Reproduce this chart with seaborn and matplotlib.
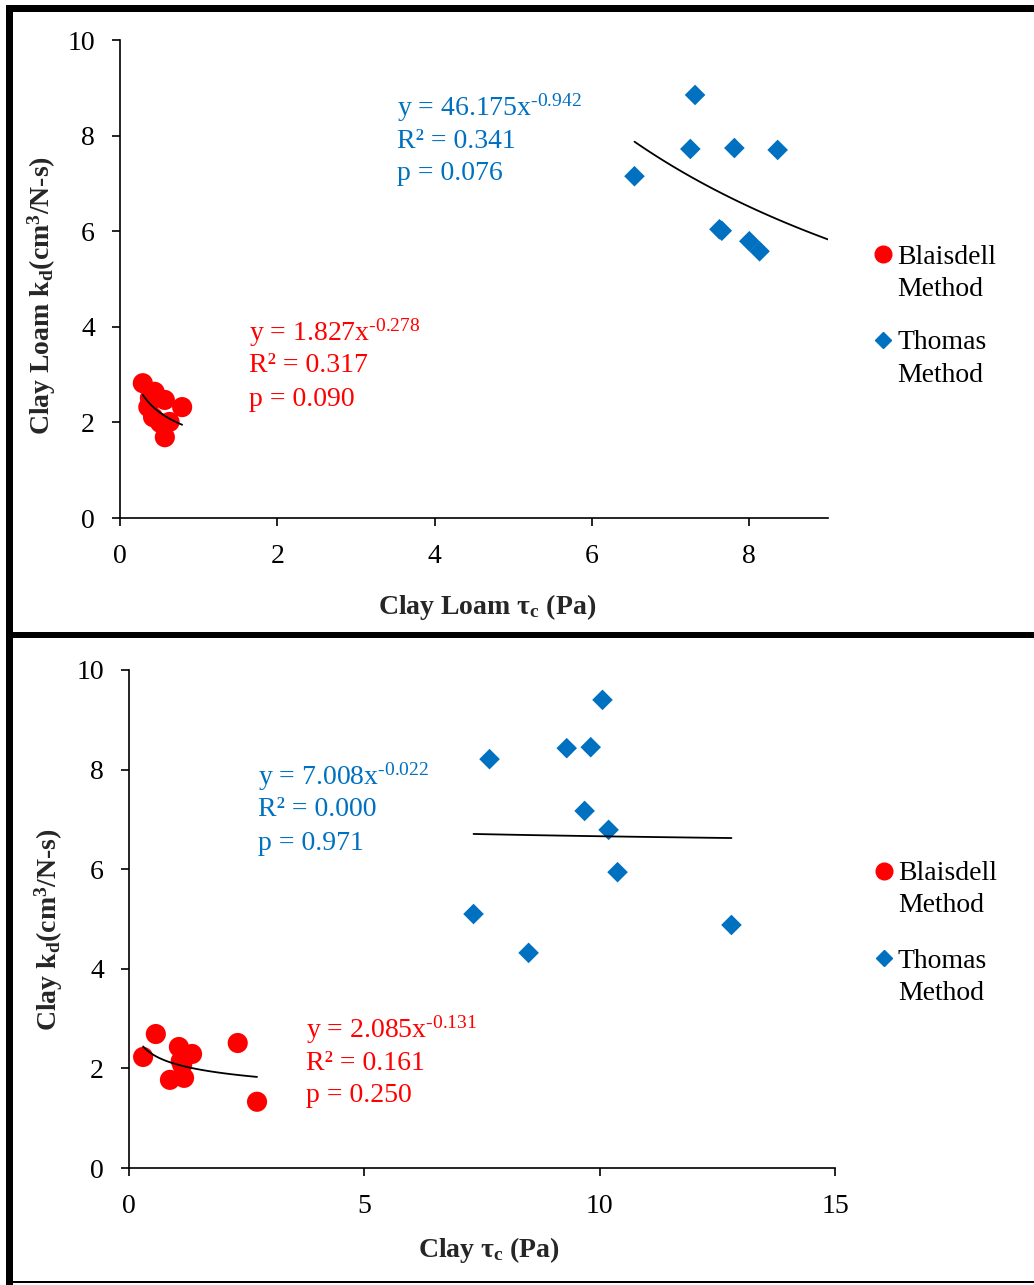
import numpy as np
import pandas as pd
import matplotlib
matplotlib.use("Agg")
import matplotlib.pyplot as plt
from matplotlib.patches import Rectangle
from matplotlib.lines import Line2D
import seaborn as sns

# ---- Clay loam soil ----
cl_blaisdell_tau = [0.29, 0.44, 0.57, 0.79, 0.36, 0.42, 0.51, 0.63, 0.57, 0.38]
cl_blaisdell_kd = [2.82, 2.64, 2.47, 2.32, 2.32, 2.11, 1.99, 2.01, 1.69, 2.51]
cl_thomas_tau = [7.31, 7.25, 7.81, 8.36, 6.54, 7.62, 7.65, 8.00, 8.13]
cl_thomas_kd = [8.85, 7.72, 7.74, 7.70, 7.15, 6.04, 6.01, 5.79, 5.58]

# ---- Clay soil ----
c_blaisdell_tau = [0.57, 0.30, 1.06, 1.34, 1.13, 0.87, 1.17, 2.31, 2.72, 1.10]
c_blaisdell_kd = [2.69, 2.23, 2.43, 2.29, 2.07, 1.77, 1.81, 2.51, 1.33, 2.15]
c_thomas_tau = [10.06, 9.30, 9.81, 7.66, 9.68, 10.19, 10.38, 7.32, 8.49, 12.80]
c_thomas_kd = [9.40, 8.43, 8.45, 8.21, 7.17, 6.79, 5.94, 5.10, 4.32, 4.88]

# Power-law fits  y = a * x^b  with reported statistics
fits = {
    "cl_blaisdell": dict(a=1.827, b=-0.278, r2="0.317", p="0.090", x0=0.29, x1=0.79),
    "cl_thomas": dict(a=46.175, b=-0.942, r2="0.341", p="0.076", x0=6.54, x1=9.0),
    "c_blaisdell": dict(a=2.085, b=-0.131, r2="0.161", p="0.250", x0=0.30, x1=2.72),
    "c_thomas": dict(a=7.008, b=-0.022, r2="0.000", p="0.971", x0=7.32, x1=12.80),
}

legend_labels = ["Blaisdell\nMethod", "Thomas\nMethod"]

RED = "#FF0000"
BLUE = "#0070C0"

sns.set_theme(style="white")
plt.rcParams["font.family"] = ["Liberation Serif", "DejaVu Serif"]
plt.rcParams["mathtext.fontset"] = "custom"
plt.rcParams["mathtext.rm"] = "Liberation Serif"
plt.rcParams["mathtext.it"] = "Liberation Serif:italic"
plt.rcParams["mathtext.bf"] = "Liberation Serif:bold"

W, H = 1034, 1285
fig = plt.figure(figsize=(W / 100, H / 100), dpi=100)


def px_axes(l, t, r, b):
    return fig.add_axes([l / W, 1 - b / H, (r - l) / W, (b - t) / H])


ax1 = px_axes(120, 40, 828, 518)
ax2 = px_axes(129, 670, 835, 1168)

FS = 20


def fig_xy(x, y):
    return x / W, 1 - y / H


def draw_panel(ax, b_tau, b_kd, t_tau, t_kd, fb, ft, xmax, xticks, xlabel, ylabel,
               xl_pos, yl_pos, txt_b, txt_t, leg_b, leg_t):
    df = pd.DataFrame({
        "tau": b_tau + t_tau,
        "kd": b_kd + t_kd,
        "method": [legend_labels[0]] * len(b_tau) + [legend_labels[1]] * len(t_tau),
    })
    sns.scatterplot(data=df, x="tau", y="kd", hue="method", style="method",
                    markers={legend_labels[0]: "o", legend_labels[1]: "D"},
                    palette={legend_labels[0]: RED, legend_labels[1]: BLUE},
                    size="method", sizes={legend_labels[0]: 210, legend_labels[1]: 110},
                    edgecolor="none", linewidth=0, ax=ax, legend=False, zorder=3)
    for f in (fb, ft):
        xs = np.linspace(f["x0"], f["x1"], 100)
        ys = f["a"] * xs ** f["b"]
        sns.lineplot(x=xs, y=ys, color="black", linewidth=1.3, ax=ax, zorder=4)

    ax.set_xlim(0, xmax)
    ax.set_ylim(0, 10)
    ax.set_xticks(xticks)
    ax.set_yticks([0, 2, 4, 6, 8, 10])
    ax.tick_params(axis="both", direction="out", length=6, width=1.2,
                   labelsize=FS, color="black", labelcolor="black",
                   bottom=True, left=True)
    ax.tick_params(axis="x", pad=13)
    ax.tick_params(axis="y", pad=12)
    for s in ("top", "right"):
        ax.spines[s].set_visible(False)
    for s in ("left", "bottom"):
        ax.spines[s].set_color("black")
        ax.spines[s].set_linewidth(1.2)
    ax.set_xlabel(xlabel, fontsize=FS, fontweight="bold")
    ax.set_ylabel(ylabel, fontsize=FS, fontweight="bold")
    ax.xaxis.set_label_coords(*xl_pos)
    ax.yaxis.set_label_coords(*yl_pos)

    # fit equations and statistics
    for f, (tx, ty), col in ((fb, txt_b, RED), (ft, txt_t, BLUE)):
        sign = "-" if f["b"] < 0 else ""
        lines = [
            f"y = {f['a']:.3f}x" + r"$^{\text{" + sign + f"{abs(f['b']):.3f}" + r"}}$",
            f"R² = {f['r2']}",
            f"p = {f['p']}",
        ]
        for i, line in enumerate(lines):
            fig.text(*fig_xy(tx, ty + 33 * i), line, color=col, fontsize=FS,
                     va="center", ha="left")

    # legend: marker beside the first line of each two-line entry
    for (mx, my), marker, col, ms, label in (
        (leg_b, "o", RED, 12, legend_labels[0]),
        (leg_t, "D", BLUE, 8.5, legend_labels[1]),
    ):
        fig.add_artist(Line2D([mx / W], [1 - my / H], marker=marker, color=col,
                              markersize=ms, linestyle="none",
                              transform=fig.transFigure))
        for i, part in enumerate(label.split("\n")):
            fig.text(*fig_xy(mx + 14, my + 3 + 32 * i), part, fontsize=FS,
                     va="center", ha="left", color="black")


draw_panel(ax1, cl_blaisdell_tau, cl_blaisdell_kd, cl_thomas_tau, cl_thomas_kd,
           fits["cl_blaisdell"], fits["cl_thomas"], 9, [0, 2, 4, 6, 8],
           r"Clay Loam τ$_{\mathbf{c}}$ (Pa)",
           r"Clay Loam k$_{\mathbf{d}}$(cm$^{\mathbf{3}}$/N-s)",
           (0.518, -0.155), (-0.088, 0.466),
           (249, 333), (397, 108), (883, 254), (883, 340))

draw_panel(ax2, c_blaisdell_tau, c_blaisdell_kd, c_thomas_tau, c_thomas_kd,
           fits["c_blaisdell"], fits["c_thomas"], 15, [0, 5, 10, 15],
           r"Clay τ$_{\mathbf{c}}$ (Pa)",
           r"Clay k$_{\mathbf{d}}$(cm$^{\mathbf{3}}$/N-s)",
           (0.51, -0.135), (-0.09, 0.478),
           (306, 1030), (258, 777), (884, 871), (884, 958))

# black panel frame
frame = [
    (6, 5, W, 7),       # top band
    (6, 5, 7, H - 5),   # left band
    (6, 632, W, 6),     # separator
    (6, 1281, W, 2),    # bottom line
]
for x, y, w, h in frame:
    fig.add_artist(Rectangle((x / W, 1 - (y + h) / H), w / W, h / H,
                             transform=fig.transFigure, color="black", lw=0))

fig.savefig("out.png", dpi=100, facecolor="white")
